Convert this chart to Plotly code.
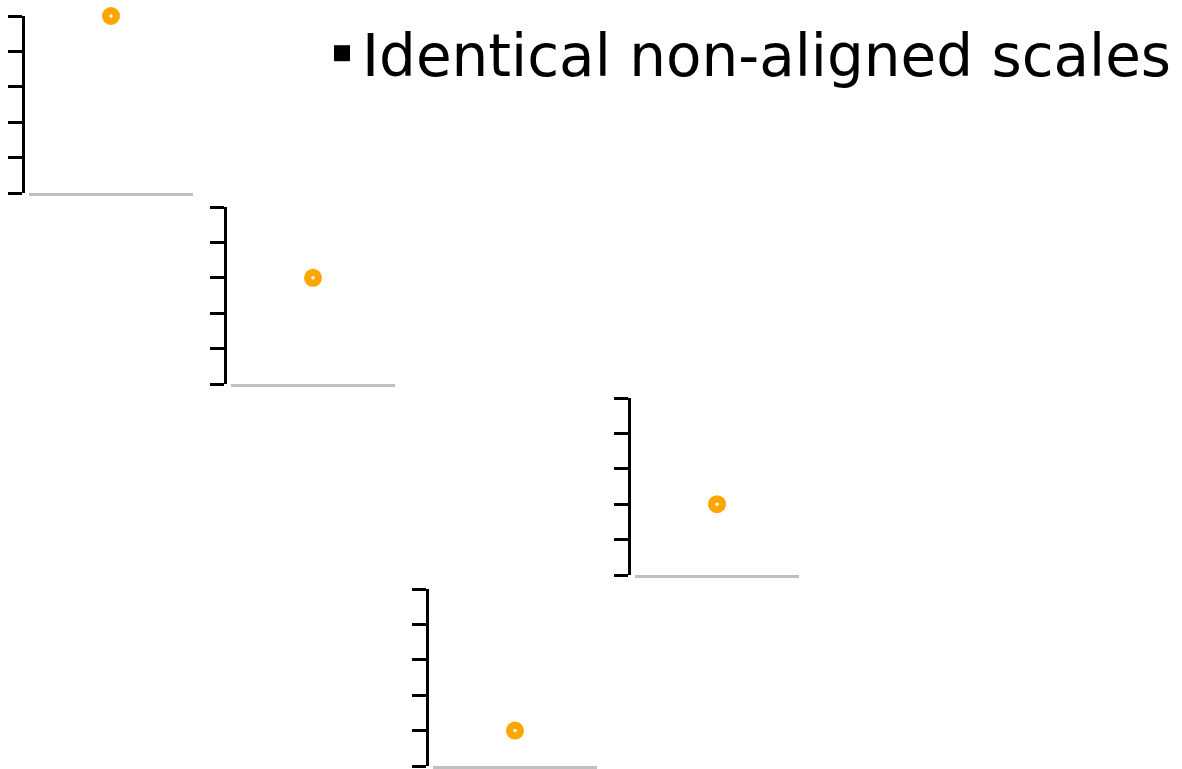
import plotly.graph_objects as go

# Values plotted in each small panel (one point per panel)
panel_values = [5, 3, 2, 1]
# Column slot of each panel, row by row (rows go top to bottom)
panel_columns = [0, 1, 3, 2]
tick_values = [0, 1, 2, 3, 4, 5]
legend_label = "Identical non-aligned scales"

W, H = 1182, 769
AXIS_X0 = 23        # pixel x of the first panel's y-axis line
COL_STEP = 202      # horizontal step between panel columns
ROW_TOP0 = 16       # pixel y of the first panel's top
ROW_STEP = 191      # vertical step between panel rows
PANEL_H = 177
GAP = 6             # gap between y-axis line and baseline start
PANEL_W = 164

fig = go.Figure()
layout = dict(
    width=W, height=H,
    margin=dict(l=0, r=0, t=0, b=0),
    paper_bgcolor="white", plot_bgcolor="white",
    showlegend=True,
    legend=dict(
        x=1177 / W, xanchor="right", y=1 - 9 / H, yanchor="top",
        font=dict(family="DejaVu Sans", size=58, color="black"),
        bgcolor="rgba(0,0,0,0)", itemsizing="trace",
    ),
)

for i, (val, col) in enumerate(zip(panel_values, panel_columns)):
    n = "" if i == 0 else str(i + 1)
    ax_px = AXIS_X0 + col * COL_STEP
    top_px = ROW_TOP0 + i * ROW_STEP
    bot_px = top_px + PANEL_H
    x0 = (ax_px + GAP) / W
    x1 = (ax_px + GAP + PANEL_W) / W
    y0 = 1 - bot_px / H
    y1 = 1 - top_px / H

    fig.add_trace(go.Scatter(
        x=[0], y=[val], xaxis="x" + n, yaxis="y" + n,
        mode="markers", showlegend=False, cliponaxis=False,
        marker=dict(color="#FFA500", size=18, line=dict(width=0)),
        hoverinfo="skip",
    ))
    fig.add_trace(go.Scatter(
        x=[0], y=[val], xaxis="x" + n, yaxis="y" + n,
        mode="markers", showlegend=False, cliponaxis=False,
        marker=dict(color="white", size=3.5, line=dict(width=0)),
        hoverinfo="skip",
    ))

    layout["xaxis" + n] = dict(
        domain=[x0, x1], anchor="y" + n, range=[-1, 1],
        showgrid=False, zeroline=False, showticklabels=False, ticks="",
        showline=True, linecolor="#c0c0c0", linewidth=2.5,
    )
    layout["yaxis" + n] = dict(
        domain=[y0, y1], anchor="free", position=ax_px / W, range=[0, 5],
        tickvals=tick_values, showticklabels=False,
        ticks="outside", ticklen=14, tickwidth=2.5, tickcolor="black",
        showgrid=False, zeroline=False,
        showline=True, linecolor="black", linewidth=2.5,
    )

# Legend entry: black square marker
fig.add_trace(go.Scatter(
    x=[None], y=[None], mode="markers", name=legend_label,
    marker=dict(symbol="square", color="black", size=18),
))

fig.update_layout(**layout)
fig.write_html("out.html")
